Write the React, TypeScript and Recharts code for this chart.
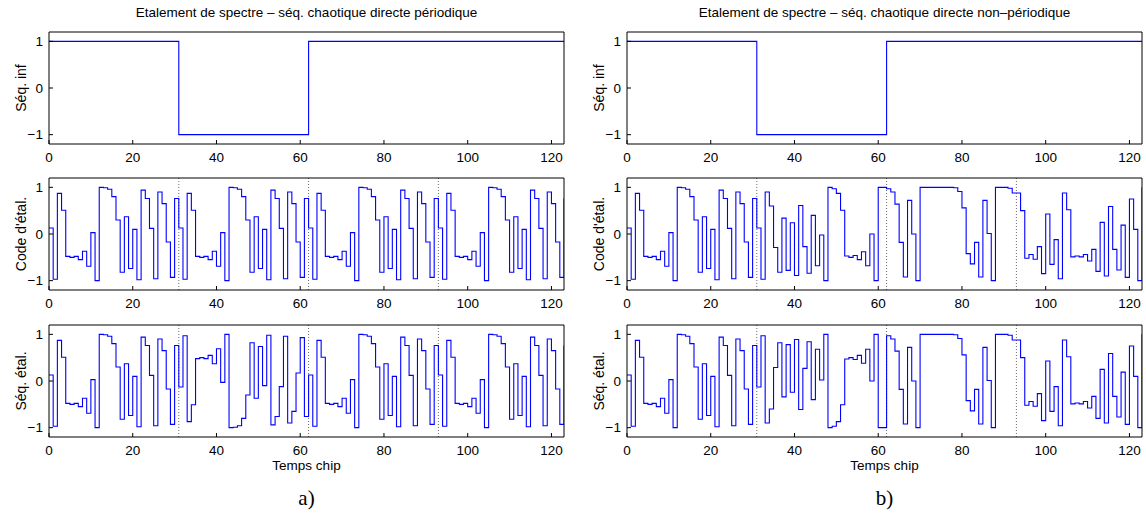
import React from 'react';
import { LineChart, Line, XAxis, YAxis, ReferenceLine } from 'recharts';

// info symbols, one per 31 chips
const infoBits = [1, -1, 1, 1];
const chipsPerSymbol = 31;
const nChips = 124;

// periodic chaotic code (one period, 31 chips)
const codePeriodic = [
  0.13, -0.97, 0.87, 0.51, -0.48, -0.5, -0.48, -0.55, -0.37, -0.69, 0.03, -1.0, 1.0, 0.99, 0.96, 0.8,
  0.3, -0.82, 0.37, -0.74, 0.1, -0.98, 0.94, 0.76, 0.12, -0.96, 0.9, 0.65, -0.17, -0.93, 0.76,
];

// non-periodic chaotic code (124 chips)
const codeNonPeriodic = [
  0.13, -0.97, 0.87, 0.51, -0.48, -0.5, -0.48, -0.55, -0.37, -0.69, 0.03, -1.0, 1.0, 0.99, 0.96, 0.8,
  0.3, -0.82, 0.37, -0.74, 0.1, -0.98, 0.94, 0.76, 0.12, -0.96, 0.9, 0.65, -0.17, -0.93, 0.76,
  0.13, -0.97, 0.9, 0.6, -0.29, -0.82, 0.34, -0.78, 0.24, -0.89, 0.61, -0.27, -0.84, 0.4, -0.68,
  -0.02, -1.0, 1.0, 0.97, 0.87, 0.51, -0.47, -0.5, -0.46, -0.55, -0.38, -0.68, 0.0, -1.0, 1.0,
  1.0, 0.97, 0.9, 0.64, -0.18, -0.92, 0.72, 0.0, -1.0, 1.0, 1.0, 1.0, 1.0, 1.0, 1.0, 1.0, 1.0,
  0.99, 0.91, 0.56, -0.42, -0.64, -0.18, -0.92, 0.72, 0.01, -1.0, 1.0, 1.0, 1.0, 0.98, 0.88, 0.88,
  0.5, -0.52, -0.44, -0.54, -0.27, -0.85, 0.43, -0.65, -0.12, -0.96, 0.88, 0.52, -0.49, -0.47,
  -0.49, -0.44, -0.58, -0.33, -0.8, 0.25, -0.9, 0.59, -0.33, -0.77, 0.19, -0.93, 0.75, 0.1, -1.0, 1.0,
];

const xTicks = [0, 20, 40, 60, 80, 100, 120];
const yTicks = [-1, 0, 1];
const symbolEdges = [31, 62, 93];

const rows = Array.from({ length: nChips }, (_, k) => {
  const info = infoBits[Math.floor(k / chipsPerSymbol)];
  const cp = codePeriodic[k % chipsPerSymbol];
  const cn = codeNonPeriodic[k];
  return { x: k, info, cp, cn, sp: info * cp, sn: info * cn };
});

const PW = 515; // plot width
const PH = 112; // plot height
const YW = 49;  // y axis width
const MT = 31;  // top margin (plus 1px top axis)
const XH = 40;  // x axis height

function YLabel(props: any) {
  const { viewBox, value } = props;
  const cx = viewBox.x + 21;
  const cy = viewBox.y + viewBox.height / 2;
  return (
    <text x={cx} y={cy} transform={`rotate(-90, ${cx}, ${cy})`} textAnchor="middle" dominantBaseline="central" fontSize={14} fill="#000">
      {value}
    </text>
  );
}

function Panel({ dataKey, left, top, ylabel, title, xlabel, dotted }: any) {
  return (
    <div style={{ position: 'absolute', left: left - YW, top: top - MT - 1 }}>
      <LineChart width={YW + PW + 1 + 6} height={MT + 1 + PH + XH} data={rows} margin={{ top: MT, right: 6, bottom: 0, left: 0 }}>
        <XAxis
          dataKey="x" type="number" domain={[0, 123]} ticks={xTicks} allowDataOverflow interval={0}
          tickSize={-4} tickMargin={12} height={XH} stroke="#000" tick={{ fill: '#000', fontSize: 13.5 }}
          label={xlabel ? { value: xlabel, position: 'insideBottom', offset: 7, fill: '#000', fontSize: 13.5 } : undefined}
        />
        <XAxis
          xAxisId="top" orientation="top" dataKey="x" type="number" domain={[0, 123]} ticks={xTicks} interval={0}
          allowDataOverflow tickSize={-4} tick={false} height={1} stroke="#000"
          label={title ? { value: title, position: 'top', offset: 14, fill: '#000', fontSize: 13.5 } : undefined}
        />
        <YAxis
          type="number" domain={[-1.2, 1.2]} ticks={yTicks} allowDataOverflow interval={0}
          tickSize={-4} tickMargin={10} width={YW} stroke="#000" tick={{ fill: '#000', fontSize: 13.5 }}
          tickFormatter={(v: number) => (v < 0 ? '\u2212' + Math.abs(v) : String(v))}
          label={<YLabel value={ylabel} />}
        />
        <YAxis
          yAxisId="r" orientation="right" type="number" domain={[-1.2, 1.2]} ticks={yTicks} interval={0}
          allowDataOverflow tickSize={-4} tick={false} width={1} stroke="#000"
        />
        {dotted && symbolEdges.map((e) => (
          <ReferenceLine key={e} x={e} stroke="#444" strokeDasharray="1 2" strokeWidth={0.8} />
        ))}
        <Line xAxisId="top" yAxisId="r" dataKey={dataKey} type="stepAfter" stroke="none" dot={false} isAnimationActive={false} />
        <Line dataKey={dataKey} type="stepAfter" stroke="#0000ff" strokeWidth={1.1} dot={false} isAnimationActive={false} />
      </LineChart>
    </div>
  );
}

const colLeft = [49, 627];
const rowTop = [32, 178, 325];

export default function App() {
  return (
    <div style={{ position: 'absolute', left: 0, top: 0, width: 1146, height: 516, background: '#fff', fontFamily: '"Liberation Sans", Arial, sans-serif' }}>
      <Panel dataKey="info" left={colLeft[0]} top={rowTop[0]} ylabel="Séq. inf" title="Etalement de spectre – séq. chaotique directe périodique" />
      <Panel dataKey="cp" left={colLeft[0]} top={rowTop[1]} ylabel="Code d'étal." dotted />
      <Panel dataKey="sp" left={colLeft[0]} top={rowTop[2]} ylabel="Séq. étal." xlabel="Temps chip" dotted />
      <Panel dataKey="info" left={colLeft[1]} top={rowTop[0]} ylabel="Séq. inf" title="Etalement de spectre – séq. chaotique directe non–périodique" />
      <Panel dataKey="cn" left={colLeft[1]} top={rowTop[1]} ylabel="Code d'étal." dotted />
      <Panel dataKey="sn" left={colLeft[1]} top={rowTop[2]} ylabel="Séq. étal." xlabel="Temps chip" dotted />
      <div style={{ position: 'absolute', left: colLeft[0], width: PW, top: 486, textAlign: 'center', fontFamily: '"Liberation Serif", serif', fontSize: 21 }}>a)</div>
      <div style={{ position: 'absolute', left: colLeft[1], width: PW, top: 486, textAlign: 'center', fontFamily: '"Liberation Serif", serif', fontSize: 21 }}>b)</div>
    </div>
  );
}
